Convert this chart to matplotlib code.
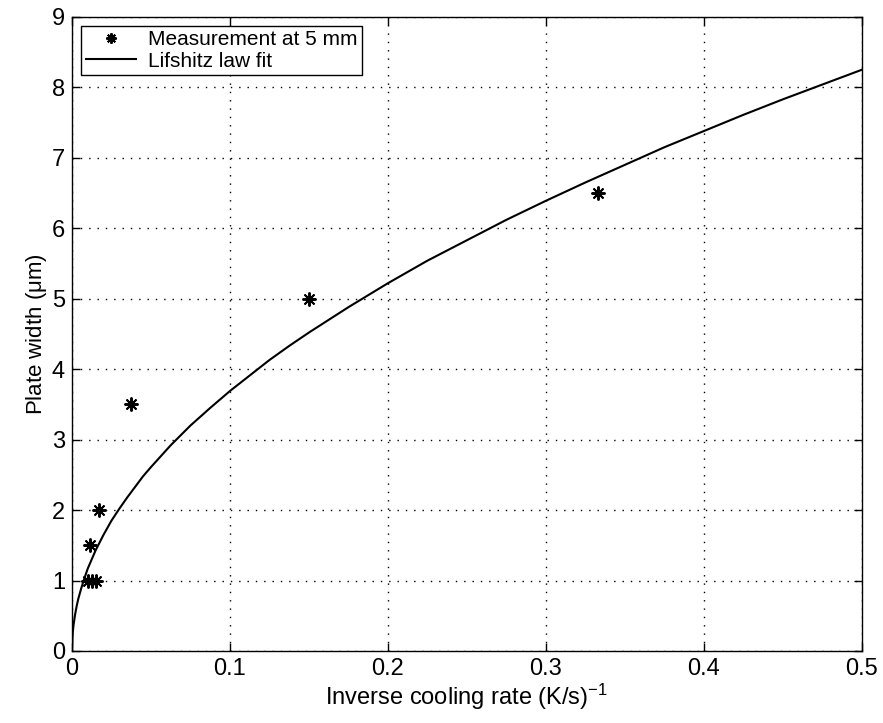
import matplotlib.pyplot as plt

meas_x = [0.0100, 0.0114, 0.0127, 0.0152, 0.0170, 0.0373, 0.150, 0.333]
meas_y = [1.0, 1.5, 1.0, 1.0, 2.0, 3.5, 5.0, 6.5]

# fit curve
fit_x = [0.0, 0.0005, 0.001, 0.002, 0.003, 0.004, 0.006, 0.008, 0.01, 0.0125, 0.015,
         0.0175, 0.02, 0.025, 0.03, 0.035, 0.04, 0.045, 0.05, 0.0625, 0.075, 0.0875,
         0.1, 0.1125, 0.125, 0.1375, 0.15, 0.175, 0.2, 0.225, 0.25, 0.275, 0.3,
         0.325, 0.35, 0.375, 0.4, 0.425, 0.45, 0.475, 0.5]
fit_y = [0.0, 0.26, 0.37, 0.52, 0.64, 0.74, 0.90, 1.04, 1.17, 1.30, 1.43,
         1.54, 1.65, 1.85, 2.02, 2.18, 2.33, 2.48, 2.61, 2.92, 3.20, 3.45,
         3.69, 3.91, 4.13, 4.33, 4.52, 4.88, 5.22, 5.54, 5.83, 6.12, 6.39,
         6.65, 6.90, 7.15, 7.38, 7.61, 7.83, 8.04, 8.25]

xticks = [0, 0.1, 0.2, 0.3, 0.4, 0.5]
xticklabels = ['0', '0.1', '0.2', '0.3', '0.4', '0.5']
yticks = list(range(10))

plt.rcParams['font.family'] = ['Liberation Sans', 'DejaVu Sans']
plt.rcParams['mathtext.fontset'] = 'custom'
plt.rcParams['mathtext.rm'] = 'Liberation Sans'
plt.rcParams['mathtext.it'] = 'Liberation Sans'

fig = plt.figure(figsize=(8.83, 7.23), dpi=100)
ax = fig.add_axes([0.0815, 0.0996, 0.8945, 0.877])

ax.plot(meas_x, meas_y, linestyle='none', marker=(8, 2, 0), markersize=10,
        markeredgewidth=1.4, color='black', label='Measurement at 5 mm')
ax.plot(fit_x, fit_y, color='black', linewidth=1.5, label='Lifshitz law fit')

ax.set_xlim(0, 0.5)
ax.set_ylim(0, 9)
ax.set_xticks(xticks)
ax.set_xticklabels(xticklabels)
ax.set_yticks(yticks)
ax.grid(True, linestyle=(0, (1, 5)), color='black', linewidth=1.0)
ax.tick_params(direction='in', length=6, width=1, top=True, right=True,
               labelsize=17, pad=5)
for s in ax.spines.values():
    s.set_linewidth(1.0)

ax.set_xlabel(r'Inverse cooling rate (K/s)$^{-1}$', fontsize=17, labelpad=1)
ax.set_ylabel(r'Plate width ($\mu$m)', fontsize=16, labelpad=2)

leg = ax.legend(loc='upper left', fontsize=15, frameon=True, fancybox=False,
                edgecolor='black', framealpha=1, borderpad=0.2, handlelength=2.4,
                handletextpad=0.6, borderaxespad=0.45, labelspacing=0.1,
                markerscale=0.75)
leg.get_frame().set_linewidth(1.0)

fig.savefig('out.png', dpi=100)
